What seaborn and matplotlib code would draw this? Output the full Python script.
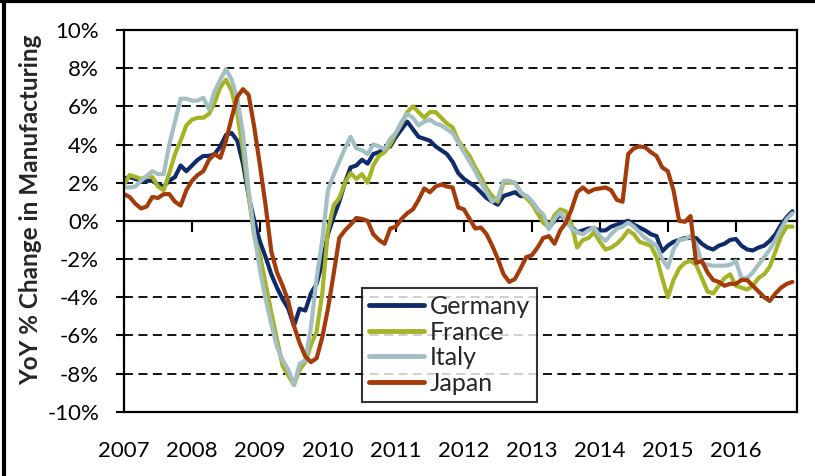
import matplotlib
matplotlib.use('Agg')
import matplotlib.pyplot as plt
import matplotlib.ticker as mticker
from matplotlib.lines import Line2D
import numpy as np
import pandas as pd
import seaborn as sns

# Monthly YoY % change in manufacturing, Jan 2007 .. Nov 2016
germany = [
    2.2, 2.3, 2.2, 2.1, 2.1, 2.1, 1.9, 1.8, 2.1, 2.3, 2.9, 2.6,
    2.9, 3.2, 3.4, 3.4, 3.5, 3.9, 4.5, 4.6, 4.2, 3.0, 1.3, 0.0,
    -1.1, -1.9, -2.8, -3.5, -4.1, -4.6, -5.5, -4.6, -4.7, -3.8, -3.3, -2.2,
    -0.7, 0.2, 1.0, 2.0, 2.8, 2.9, 3.2, 3.0, 3.5, 3.6, 3.8, 3.9,
    4.4, 4.8, 5.2, 4.8, 4.4, 4.3, 4.2, 3.9, 3.7, 3.5, 3.1, 2.5,
    2.2, 2.0, 1.8, 1.5, 1.2, 1.0, 0.85, 1.3, 1.4, 1.5, 1.3, 1.3,
    1.0, 0.6, 0.0, -0.35, 0.0, 0.35, 0.0, -0.3, -0.6, -0.5, -0.4, -0.4,
    -0.5, -0.5, -0.3, -0.2, -0.1, 0.0, -0.2, -0.35, -0.5, -0.7, -0.8, -1.6,
    -1.3, -1.1, -1.0, -0.9, -0.9, -0.9, -1.2, -1.4, -1.5, -1.3, -1.2, -1.0,
    -0.95, -1.3, -1.5, -1.55, -1.4, -1.3, -1.05, -0.7, -0.2, 0.2, 0.5,
]
france = [
    1.9, 2.4, 2.3, 2.2, 2.3, 2.3, 1.8, 1.6, 2.5, 3.5, 4.2, 5.0,
    5.3, 5.4, 5.4, 5.6, 6.2, 7.0, 7.4, 6.8, 5.6, 3.7, 1.3, -0.8,
    -1.8, -3.3, -4.8, -6.2, -7.6, -8.1, -8.6, -7.8, -7.4, -6.5, -5.8, -3.8,
    -0.5, 0.8, 1.2, 2.0, 2.5, 2.2, 2.45, 2.0, 2.9, 3.4, 3.6, 4.0,
    4.6, 5.1, 5.7, 6.0, 5.7, 5.4, 5.7, 5.7, 5.4, 5.1, 4.9, 4.2,
    3.8, 3.4, 2.8, 2.3, 1.7, 1.3, 1.0, 2.0, 2.0, 2.0, 1.5, 1.2,
    0.9, 0.4, -0.1, -0.35, 0.3, 0.6, 0.5, -0.2, -1.4, -1.0, -0.9, -0.6,
    -1.1, -1.5, -1.4, -1.2, -0.9, -0.5, -0.7, -1.1, -1.2, -1.3, -1.9, -3.0,
    -4.0, -3.1, -2.5, -2.2, -2.1, -2.3, -3.0, -3.7, -3.8, -3.4, -3.0, -2.8,
    -3.4, -3.5, -3.6, -3.4, -3.0, -2.8, -2.4, -1.6, -0.8, -0.3, -0.3,
]
italy = [
    1.75, 1.75, 1.8, 2.1, 2.35, 2.6, 2.45, 2.45, 4.0, 5.2, 6.4, 6.4,
    6.3, 6.3, 6.45, 5.85, 6.8, 7.4, 7.95, 7.4, 6.4, 4.6, 1.6, -0.7,
    -2.6, -4.1, -5.4, -6.6, -7.3, -7.8, -8.6, -7.5, -7.3, -5.6, -3.0, -1.0,
    1.6, 2.4, 3.1, 3.8, 4.4, 3.8, 3.7, 3.5, 4.0, 3.9, 3.75, 4.3,
    4.6, 5.2, 5.6, 5.4, 5.0, 5.2, 5.3, 5.1, 5.0, 4.8, 4.6, 4.1,
    3.6, 3.1, 2.6, 2.0, 1.5, 1.0, 1.2, 2.1, 2.1, 2.0, 1.5, 1.3,
    1.05, 0.6, 0.35, -0.44, 0.1, 0.44, 0.0, -0.4, -0.6, -0.7, -0.5, -0.35,
    -0.8, -1.05, -0.7, -0.4, -0.3, -0.1, -0.3, -0.6, -0.9, -1.1, -1.3, -2.0,
    -2.45, -1.5, -1.0, -0.95, -0.8, -1.2, -2.2, -2.3, -2.35, -2.35, -2.35, -2.3,
    -2.1, -3.0, -3.0, -2.7, -2.3, -1.9, -1.5, -1.0, -0.4, 0.1, 0.4,
]
japan = [
    1.4, 1.25, 0.9, 0.65, 0.75, 1.25, 1.2, 1.4, 1.4, 1.0, 0.8, 1.6,
    2.1, 2.4, 2.6, 3.2, 3.5, 3.3, 4.2, 5.4, 6.5, 6.9, 6.6, 4.9,
    2.9, 0.8, -1.6, -2.7, -3.4, -4.2, -5.5, -6.4, -7.1, -7.4, -7.2, -6.1,
    -4.6, -2.8, -0.9, -0.5, -0.2, 0.15, 0.1, 0.0, -0.7, -1.0, -1.2, -0.4,
    -0.3, 0.1, 0.4, 0.6, 1.1, 1.7, 1.5, 1.8, 1.9, 1.8, 1.75, 0.7,
    0.6, 0.1, -0.4, -0.35, -0.7, -1.3, -2.0, -2.8, -3.2, -3.05, -2.5, -1.9,
    -1.8, -1.4, -0.9, -0.8, -1.2, -0.5, -0.1, 0.6, 1.5, 1.75, 1.5, 1.65,
    1.7, 1.75, 1.6, 1.1, 1.0, 3.5, 3.8, 3.9, 3.85, 3.6, 3.4, 2.8,
    2.6, 1.6, 0.0, -0.05, 0.25, -2.2, -2.1, -2.7, -3.1, -3.2, -3.4, -3.3,
    -3.3, -3.1, -3.1, -3.4, -3.7, -4.0, -4.2, -3.8, -3.5, -3.3, -3.2,
]

countries = ['Germany', 'France', 'Italy', 'Japan']
colors = ['#0f2b69', '#a5b425', '#a3bfc4', '#a33b0a']
years = list(range(2007, 2017))

months = np.arange(len(germany))
x = 2007 + months / 12
df = pd.concat([
    pd.DataFrame({'date': x, 'value': vals, 'country': name})
    for name, vals in zip(countries, [germany, france, italy, japan])
])

sns.set_style('white')
plt.rcParams['font.family'] = ['Lato', 'DejaVu Sans']

fig = plt.figure(figsize=(8.15, 4.76), dpi=100)
ax = fig.add_axes([124 / 815, 1 - 411.7 / 476, 673 / 815, 381.7 / 476])

sns.lineplot(data=df, x='date', y='value', hue='country', hue_order=countries,
             palette=colors, linewidth=3, ax=ax, legend=False)

ax.set_xlim(2007, 2007 + 118.8 / 12)
ax.set_ylim(-10, 10)

# dashed gridlines
for v in [-8, -6, -4, -2, 2, 4, 6, 8]:
    ax.axhline(v, color='black', lw=1.3, ls=(0, (5, 3)), zorder=0)

for s in ax.spines.values():
    s.set_color('black')
    s.set_linewidth(1.6)

ax.yaxis.set_major_locator(mticker.MultipleLocator(2))
ax.yaxis.set_major_formatter(mticker.FuncFormatter(lambda v, p: f'{v:.0f}%'))
ax.tick_params(axis='y', direction='out', length=6, width=1.5, pad=12,
               labelsize=16, left=True, colors='black')

ax.set_xticks(years)
ax.set_xticklabels([str(y) for y in years])
ax.tick_params(axis='x', length=0, pad=21, labelsize=16, colors='black')
ax.set_xlabel('')
ax.set_ylabel('YoY % Change in Manufacturing', fontsize=17.5, fontweight='bold')
ax.yaxis.set_label_coords(-0.121, 0.528)

# horizontal axis crossing at 0 with year ticks
sec = ax.secondary_xaxis(0.5)
sec.set_alignment('bottom')
sec.spines['bottom'].set_linewidth(1.6)
sec.spines['bottom'].set_color('black')
sec.set_xticks(years)
sec.set_xticklabels([])
sec.tick_params(axis='x', direction='out', length=8, width=1.5, colors='black')

handles = [Line2D([], [], color=c, lw=3.5, solid_capstyle='round') for c in colors]
leg = ax.legend(handles, countries, loc='lower left',
                bbox_to_anchor=(0.3535, 0.0254), borderaxespad=0,
                fontsize=18, frameon=True, fancybox=False, edgecolor='black',
                handlelength=2.2, handletextpad=0.2, labelspacing=0.1,
                borderpad=0.3)
leg.get_frame().set_linewidth(1.5)

# outer frame (left and top edges)
fig.add_artist(Line2D([4 / 815, 4 / 815], [0, 1], color='black', lw=3,
                      transform=fig.transFigure))
fig.add_artist(Line2D([0, 1], [1 - 1 / 476, 1 - 1 / 476], color='black', lw=3,
                      transform=fig.transFigure))

fig.savefig('out.png', dpi=100)
